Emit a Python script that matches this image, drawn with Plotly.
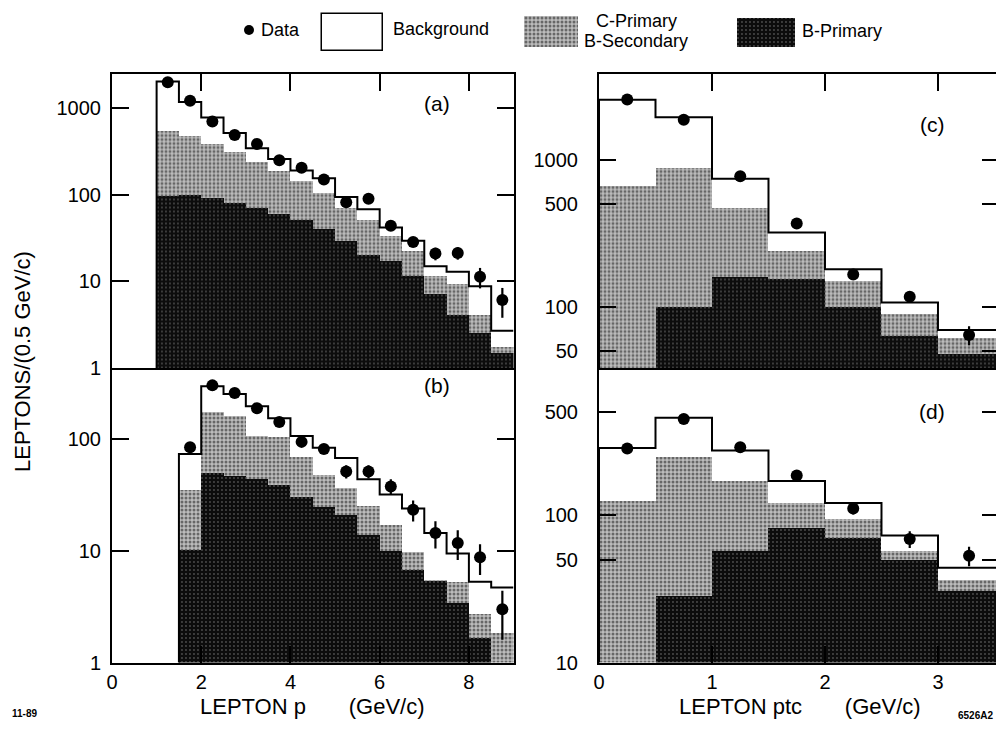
import plotly.graph_objects as go

# The page body has an 8 px margin, so the figure is drawn 8 px in from the corner.
OFF = 8
W, H = 1004 - OFF, 743 - OFF
def px(x): return (x - OFF) / W
def py(y): return 1 - (y - OFF) / H

# ---------------- data ----------------
# Panel (a): LEPTON p, 0.5 GeV/c bins
a_edges = [1.0, 1.5, 2.0, 2.5, 3.0, 3.5, 4.0, 4.5, 5.0, 5.5, 6.0, 6.5, 7.0, 7.5, 8.0, 8.5, 9.0]
a_total = [2030, 1180, 780, 515, 345, 258, 190, 155, 94, 68, 42, 29.5, 15, 12.9, 8.8, 2.7]
a_cprim = [545, 478, 395, 320, 240, 190, 145, 107, 72, 52, 34, 23, 11.8, 9.5, 4.1, 1.75]
a_bprim = [98, 100, 92, 82, 72, 61, 52, 40.5, 30, 20.5, 17.6, 11.7, 7.2, 4.1, 2.6, 1.5]
a_data = [1990, 1220, 700, 490, 385, 250, 205, 150, 82, 90, 44, 28.5, 21, 21.3, 11.3, 6.1]
a_err = [0, 0, 0, 0, 0, 0, 0, 0, 0, 0, 0, 2.5, 3.5, 3.5, 3, 2.3]

# Panel (b)
b_edges = [1.5, 2.0, 2.5, 3.0, 3.5, 4.0, 4.5, 5.0, 5.5, 6.0, 6.5, 7.0, 7.5, 8.0, 8.5, 9.0]
b_total = [74, 300, 255, 198, 155, 107, 84, 68, 44, 32, 24, 14.5, 9.5, 5.3, 4.7]
b_cprim = [35, 175, 163, 108, 104, 70, 48, 36.6, 25.5, 17.2, 9.8, 5.5, 5.3, 2.7, 1.85]
b_bprim = [10.3, 50, 47, 44, 39, 30.5, 25, 21, 14, 10, 6.8, 5.4, 3.4, 1.65, 1.0]
b_data = [85, 305, 260, 190, 143, 95, 82, 51.6, 51.6, 37.9, 23.4, 14.5, 11.8, 8.8, 3.0]
b_err = [0, 0, 0, 0, 0, 0, 0, 7, 7, 6, 5, 4, 3.5, 2.7, 1.4]

# Panel (c): LEPTON ptc
c_edges = [0.0, 0.5, 1.0, 1.5, 2.0, 2.5, 3.0, 3.55]
c_total = [2550, 1940, 743, 320, 180, 107, 69.6]
c_cprim = [669, 883, 470, 243, 152, 90, 62]
c_bprim = [30, 101, 162, 156, 100, 64.4, 48.4]
c_data = [2560, 1866, 770, 368, 166, 117, 64.4]
c_err = [0, 0, 0, 0, 0, 0, 9.5]

# Panel (d)
d_edges = [0.0, 0.5, 1.0, 1.5, 2.0, 2.5, 3.0, 3.55]
d_total = [286, 460, 275, 171, 121, 73, 44]
d_cprim = [124, 250, 171, 121, 94, 57.3, 36.5]
d_bprim = [8, 28.5, 56.9, 81.8, 70, 49.5, 30.4]
d_data = [284, 451, 290, 186, 111, 69, 53]
d_err = [0, 0, 0, 0, 10, 9, 8]

FONT = "Liberation Sans, Arial, Helvetica, sans-serif"
CROSS = dict(shape=".", fgcolor="#111111", bgcolor="#bcbcbc", size=4, solidity=0.45)
DARK = dict(shape=".", fgcolor="#8c8c8c", bgcolor="#0c0c0c", size=4, solidity=0.18)

fig = go.Figure()

def add_panel(xa, ya, edges, total, cprim, bprim, data, err, ymin):
    centers = [(edges[i] + edges[i + 1]) / 2 for i in range(len(edges) - 1)]
    widths = [edges[i + 1] - edges[i] for i in range(len(edges) - 1)]
    fig.add_trace(go.Bar(x=centers, y=cprim, width=widths, xaxis=xa, yaxis=ya,
                         marker=dict(color="#bcbcbc", pattern=CROSS, line=dict(width=0)),
                         showlegend=False, hoverinfo="skip"))
    fig.add_trace(go.Bar(x=centers, y=bprim, width=widths, xaxis=xa, yaxis=ya,
                         marker=dict(color="#0c0c0c", pattern=DARK, line=dict(width=0)),
                         showlegend=False, hoverinfo="skip"))
    sx = [edges[0]] + edges[:-1] + [edges[-1]]
    sy = [ymin] + total + [total[-1]]
    fig.add_trace(go.Scatter(x=sx, y=sy, xaxis=xa, yaxis=ya, mode="lines",
                             line=dict(color="black", width=2, shape="hv"),
                             showlegend=False, hoverinfo="skip"))
    fig.add_trace(go.Scatter(x=centers, y=data, xaxis=xa, yaxis=ya, mode="markers",
                             marker=dict(color="black", size=12),
                             error_y=dict(type="data", array=err,
                                          color="black", thickness=2.2, width=0),
                             showlegend=False, hoverinfo="skip"))

add_panel("x", "y", a_edges, a_total, a_cprim, a_bprim, a_data, a_err, 0.1)
add_panel("x2", "y2", b_edges, b_total, b_cprim, b_bprim, b_data, b_err, 0.1)
add_panel("x3", "y3", c_edges, c_total, c_cprim, c_bprim, c_data, c_err, 1.0)
add_panel("x4", "y4", d_edges, d_total, d_cprim, d_bprim, d_data, d_err, 1.0)

# ---- legend keys (separate hidden axis in screen-pixel units) ----
leg_x = [352.5, 550.5, 766]
leg_w = [61, 54, 58]
leg_top = [14, 16, 18]
leg_bot = [51, 47, 47]
fig.add_trace(go.Bar(x=[leg_x[0]], y=[leg_top[0] - leg_bot[0]], base=[leg_bot[0]], width=[leg_w[0]],
                     xaxis="x5", yaxis="y5", marker=dict(color="white", line=dict(color="black", width=1.5)),
                     showlegend=False, hoverinfo="skip"))
fig.add_trace(go.Bar(x=[leg_x[1]], y=[leg_top[1] - leg_bot[1]], base=[leg_bot[1]], width=[leg_w[1]],
                     xaxis="x5", yaxis="y5", marker=dict(color="#bcbcbc", pattern=CROSS, line=dict(width=0)),
                     showlegend=False, hoverinfo="skip"))
fig.add_trace(go.Bar(x=[leg_x[2]], y=[leg_top[2] - leg_bot[2]], base=[leg_bot[2]], width=[leg_w[2]],
                     xaxis="x5", yaxis="y5", marker=dict(color="#0c0c0c", pattern=DARK, line=dict(width=0)),
                     showlegend=False, hoverinfo="skip"))
fig.add_trace(go.Scatter(x=[249], y=[30], xaxis="x5", yaxis="y5", mode="markers",
                         marker=dict(color="black", size=10), showlegend=False, hoverinfo="skip"))

ax_common = dict(showgrid=False, zeroline=False, showline=True, linecolor="black", linewidth=2,
                 ticks="inside", ticklen=17, tickwidth=2, tickcolor="black", automargin=False,
                 tickfont=dict(family=FONT, size=20, color="black"))

LX = [px(112), px(513.5)]
RX = [px(599), px(999)]
TY = [py(368), py(73.5)]
BY = [py(662.5), py(368)]

fig.update_layout(
    width=W, height=H, margin=dict(l=0, r=0, t=0, b=0, autoexpand=False),
    paper_bgcolor="white", plot_bgcolor="rgba(0,0,0,0)",
    barmode="overlay", bargap=0,
    font=dict(family=FONT, color="black"),
    xaxis=dict(domain=LX, anchor="y", range=[0, 9], side="top", tickvals=[0, 2, 4, 6, 8],
               showticklabels=False, mirror=True, **ax_common),
    yaxis=dict(domain=TY, anchor="x", type="log", range=[0, 3.4], tickvals=[1, 10, 100, 1000],
               ticktext=["1", "10", "100", "1000"], mirror="ticks", ticklabelstandoff=5, **ax_common),
    xaxis2=dict(domain=LX, anchor="y2", range=[0, 9], side="bottom", tickvals=[0, 2, 4, 6, 8],
                mirror=False, ticklabelstandoff=0, **ax_common),
    yaxis2=dict(domain=BY, anchor="x2", type="log", range=[0, 2.64], tickvals=[1, 10, 100],
                ticktext=["1", "10", "100"], mirror="ticks", ticklabelstandoff=5, **ax_common),
    xaxis3=dict(domain=RX, anchor="y3", range=[0, 3.54], side="top", tickvals=[0, 1, 2, 3],
                showticklabels=False, mirror=True, **ax_common),
    yaxis3=dict(domain=TY, anchor="x3", type="log", range=[1.585, 3.585], tickvals=[50, 100, 500, 1000],
                ticktext=["50", "100", "500", "1000"], mirror="ticks", ticklabelstandoff=15, **ax_common),
    xaxis4=dict(domain=RX, anchor="y4", range=[0, 3.54], side="bottom", tickvals=[0, 1, 2, 3],
                mirror=False, ticklabelstandoff=0, **ax_common),
    yaxis4=dict(domain=BY, anchor="x4", type="log", range=[1, 3], tickvals=[10, 50, 100, 500],
                ticktext=["10", "50", "100", "500"], mirror="ticks", ticklabelstandoff=15, **ax_common),
    xaxis5=dict(domain=[0, 1], anchor="y5", range=[OFF, 1004], visible=False, automargin=False),
    yaxis5=dict(domain=[py(60), 1], anchor="x5", range=[60, OFF], visible=False, automargin=False),
)

def ann(text, x, y, size=19, xanchor="center", yanchor="middle", angle=0, bold=False):
    fig.add_annotation(text=("<b>%s</b>" % text) if bold else text, x=px(x), y=py(y),
                       xref="paper", yref="paper", showarrow=False, xanchor=xanchor,
                       yanchor=yanchor, textangle=angle,
                       font=dict(family=FONT, size=size, color="black"))

# legend texts
ann("Data", 259, 30, size=18, xanchor="left")
ann("Background", 391, 29, size=18, xanchor="left")
ann("C-Primary", 636, 21, size=18)
ann("B-Secondary", 636, 41, size=18)
ann("B-Primary", 800, 31, size=18, xanchor="left")

# panel labels
ann("(a)", 437, 103, size=21)
ann("(b)", 437, 386, size=21)
ann("(c)", 932, 124, size=21)
ann("(d)", 932, 411, size=21)

# axis titles
ann("LEPTONS/(0.5 GeV/c)", 22, 362, size=22, angle=-90)
gap = "&nbsp;" * 7
ann("LEPTON p" + gap + "(GeV/c)", 312, 706, size=22)
ann("LEPTON ptc" + gap + "(GeV/c)", 800, 706, size=22)

# corner marks
ann("11-89", 10, 713, size=10, xanchor="left", bold=True)
ann("6526A2", 995, 715, size=10, xanchor="right", bold=True)

fig.write_html("out.html")
